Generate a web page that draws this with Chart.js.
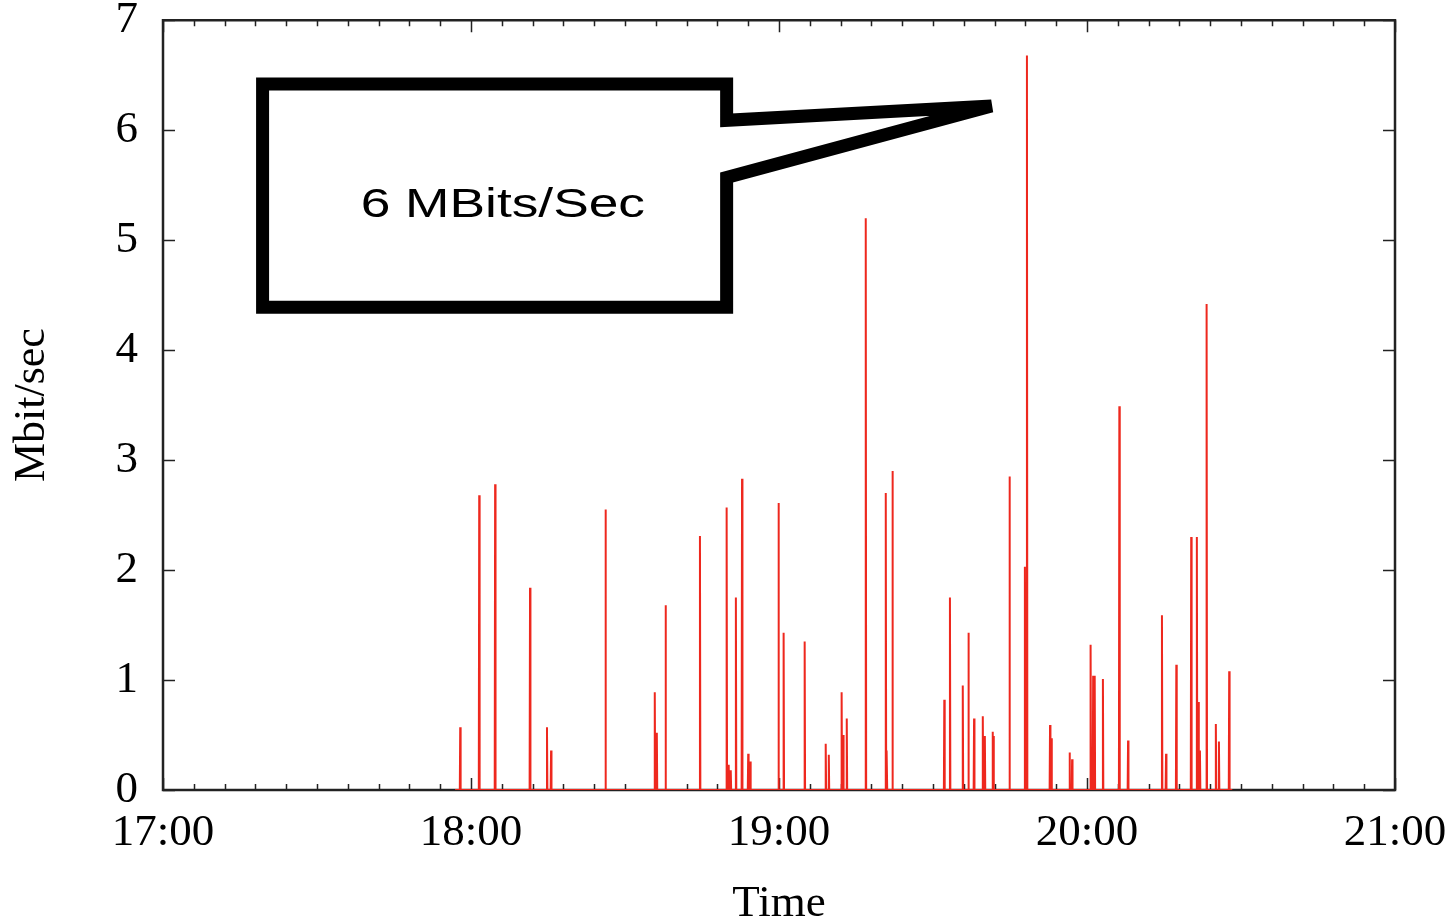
<!DOCTYPE html>
<html>
<head>
<meta charset="utf-8">
<script src="https://cdn.jsdelivr.net/npm/chart.js@4.4.1/dist/chart.umd.min.js"></script>
<style>
  html, body { margin: 0; padding: 0; background: #fff; }
  #wrap { width: 1450px; height: 921px; }
</style>
</head>
<body>
<div id="wrap"><canvas id="MyChart" width="1450" height="921"></canvas></div>
<script>
// minutes after 17:00 where a burst was seen, and its rate in Mbit/sec
let spikeMinutes = [57.9, 61.6, 64.7, 71.5, 74.8, 75.6, 86.2, 95.8, 96.2, 97.9, 104.6, 109.8, 110.2, 110.6, 111.6, 112.8, 114.0, 114.4,
    119.9, 120.9, 125.0, 129.1, 129.7, 132.2, 132.5, 133.2, 136.9, 140.8, 141.0, 142.1, 152.2, 153.3, 155.8, 156.9, 158.0, 159.7, 160.1,
    161.6, 161.8, 164.9, 167.9, 168.3, 172.8, 173.1, 176.6, 177.1, 180.7, 181.2, 181.5, 183.1, 186.3, 188.0, 194.6, 195.4, 197.4,
    200.3, 201.4, 201.7, 202.0, 203.3, 205.1, 205.7, 207.7]
let spikeValues = [0.57, 2.68, 2.78, 1.84, 0.57, 0.36, 2.55, 0.89, 0.52, 1.68, 2.31, 2.57, 0.23, 0.18, 1.75, 2.83, 0.33, 0.26,
    2.61, 1.43, 1.35, 0.42, 0.32, 0.89, 0.50, 0.65, 5.20, 2.70, 0.36, 2.90, 0.82, 1.75, 0.95, 1.43, 0.65, 0.67, 0.49,
    0.53, 0.49, 2.85, 2.03, 6.68, 0.59, 0.47, 0.34, 0.28, 1.32, 1.04, 1.04, 1.01, 3.49, 0.45, 1.59, 0.33, 1.14,
    2.30, 2.30, 0.80, 0.36, 4.42, 0.60, 0.44, 1.08]
let recordStart = 56.9
let recordEnd = 208.3
let hourLabels = ['17:00', '18:00', '19:00', '20:00', '21:00']
let yTicks = [0, 1, 2, 3, 4, 5, 6, 7]
let calloutText = '6 MBits/Sec'

// traffic is zero between bursts
let series = [{ x: recordStart, y: 0 }]
spikeMinutes.forEach((m, i) => {
    series.push({ x: m - 0.08, y: 0 }, { x: m, y: spikeValues[i] }, { x: m + 0.08, y: 0 })
})
series.push({ x: recordEnd, y: 0 })

// gnuplot style frame with inward ticks
const frameTicks = {
    id: 'frameTicks',
    beforeDatasetsDraw(chart) {
        const { ctx, chartArea: a, scales: { x, y } } = chart
        ctx.save()
        ctx.strokeStyle = '#222'
        ctx.lineWidth = 1.5
        for (let m = 0; m <= 240; m += 6) {
            const px = Math.round(x.getPixelForValue(m)) + 0.5
            const len = m % 60 === 0 ? 12 : 6
            ctx.beginPath()
            ctx.moveTo(px, a.bottom); ctx.lineTo(px, a.bottom - len)
            ctx.moveTo(px, a.top); ctx.lineTo(px, a.top + len)
            ctx.stroke()
        }
        yTicks.forEach(v => {
            const py = Math.round(y.getPixelForValue(v)) + 0.5
            ctx.beginPath()
            ctx.moveTo(a.left, py); ctx.lineTo(a.left + 12, py)
            ctx.moveTo(a.right, py); ctx.lineTo(a.right - 12, py)
            ctx.stroke()
        })
        ctx.lineWidth = 2.5
        ctx.strokeRect(a.left, a.top, a.right - a.left, a.bottom - a.top)
        ctx.restore()
    }
}

// speech-bubble callout pointing at the peak
const callout = {
    id: 'callout',
    afterDraw(chart) {
        const { ctx, scales: { x, y } } = chart
        const X = v => x.getPixelForValue(v)
        const Y = v => y.getPixelForValue(v)
        const l = X(19.4), r = X(109.8), t = Y(6.42), b = Y(4.39)
        ctx.save()
        ctx.strokeStyle = '#000'
        ctx.lineWidth = 13
        ctx.lineJoin = 'miter'
        ctx.miterLimit = 2
        ctx.beginPath()
        ctx.moveTo(l, t)
        ctx.lineTo(r, t)
        ctx.lineTo(r, Y(6.09))
        ctx.lineTo(X(161.4), Y(6.22))
        ctx.lineTo(r, Y(5.57))
        ctx.lineTo(r, b)
        ctx.lineTo(l, b)
        ctx.closePath()
        ctx.stroke()
        ctx.translate(X(66.2), Y(5.21))
        ctx.scale(1.3, 1)
        ctx.fillStyle = '#000'
        ctx.font = '41px "Liberation Sans", Arial, sans-serif'
        ctx.textAlign = 'center'
        ctx.textBaseline = 'alphabetic'
        ctx.fillText(calloutText, 0, 0)
        ctx.restore()
    }
}

let MyChart = document.getElementById('MyChart').getContext('2d')

let trafficChart = new Chart(MyChart, {
    type: 'line',
    data: {
        datasets: [{
            label: 'Mbit/sec',
            data: series,
            borderColor: 'rgb(238, 40, 30)',
            borderWidth: 2,
            pointRadius: 0,
            tension: 0,
            fill: false
        }]
    },
    options: {
        responsive: false,
        animation: false,
        devicePixelRatio: 1,
        layout: { padding: { left: 0, right: 55, top: 20, bottom: 0 } },
        plugins: {
            legend: { display: false },
            tooltip: { enabled: false }
        },
        scales: {
            x: {
                type: 'linear',
                min: 0,
                max: 240,
                // transparent tick marks only make room for the labels
                grid: { drawOnChartArea: false, drawTicks: true, tickLength: 16, color: 'rgba(0,0,0,0)' },
                border: { display: false },
                ticks: {
                    stepSize: 60,
                    padding: 0,
                    color: '#000',
                    maxRotation: 0,
                    font: { family: '"Liberation Serif", "Times New Roman", serif', size: 45 },
                    callback: v => hourLabels[v / 60]
                },
                title: {
                    display: true,
                    text: 'Time',
                    color: '#000',
                    padding: 0,
                    font: { family: '"Liberation Serif", "Times New Roman", serif', size: 45, lineHeight: 0.75 }
                },
                afterFit: s => { s.height = 131 }
            },
            y: {
                min: 0,
                max: 7,
                grid: { drawOnChartArea: false, drawTicks: true, tickLength: 25, color: 'rgba(0,0,0,0)' },
                border: { display: false },
                ticks: {
                    stepSize: 1,
                    padding: 0,
                    color: '#000',
                    font: { family: '"Liberation Serif", "Times New Roman", serif', size: 45, lineHeight: 0.9 }
                },
                title: {
                    display: true,
                    text: 'Mbit/sec',
                    color: '#000',
                    padding: { top: 10, bottom: 0 },
                    font: { family: '"Liberation Serif", "Times New Roman", serif', size: 44, lineHeight: 1 }
                },
                afterFit: s => { s.width = 163 }
            }
        }
    },
    plugins: [frameTicks, callout]
})
</script>
</body>
</html>
